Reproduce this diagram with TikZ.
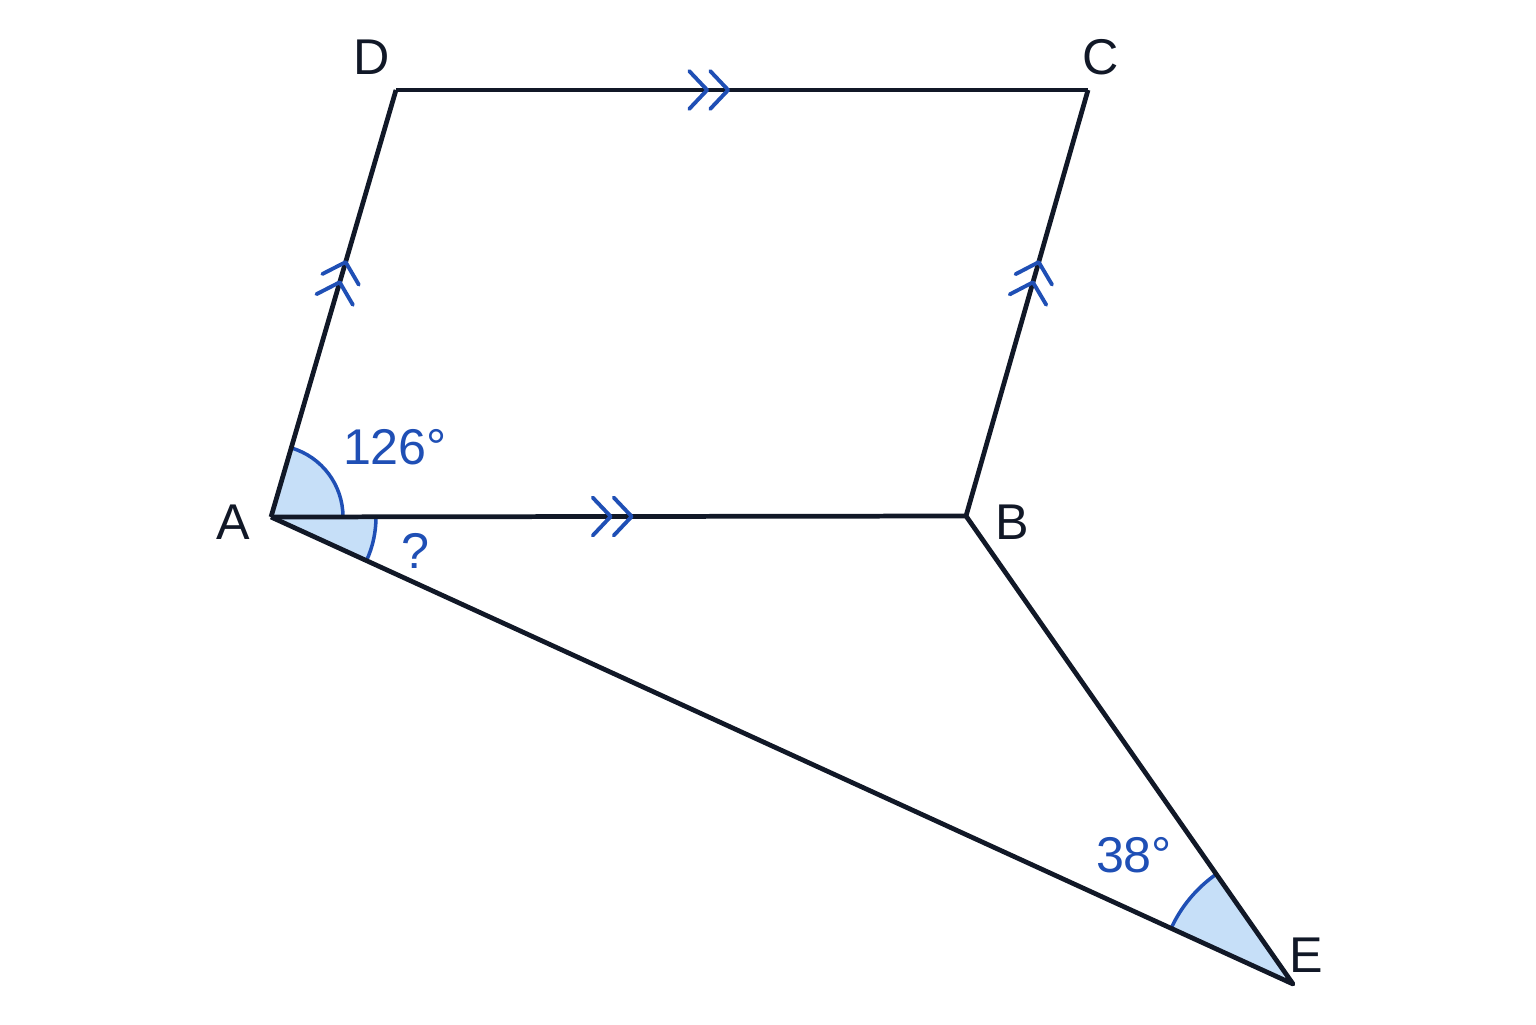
\documentclass[tikz,border=0pt]{standalone}
\usepackage{fontspec}
\setmainfont{Liberation Sans}
\usetikzlibrary{angles,decorations.markings}
\definecolor{ink}{HTML}{111827}
\definecolor{markblue}{HTML}{1F4FB5}
\definecolor{anglefill}{HTML}{C6DFF8}
\tikzset{
  side/.style={ink,line width=1.35pt,line join=round},
  vlabel/.style={ink,font=\fontsize{14.3}{17}\selectfont},
  alabel/.style={markblue,font=\fontsize{14.3}{17}\selectfont},
  anglemark/.style={draw=markblue,fill=anglefill,line width=1pt},
  parallel/.style={postaction={decorate,decoration={markings,
    mark=at position #1 with {\draw[markblue,line width=1.1pt,line cap=round]
      (-0.18,0.19)--(0,0)--(-0.18,-0.19) (-0.39,0.19)--(-0.21,0)--(-0.39,-0.19);}}}}
}
\begin{document}
\begin{tikzpicture}
            \useasboundingbox (0,0) rectangle (15.36,10.24);
            % Vertices
            \coordinate (A) at (2.71,5.07);
            \coordinate (B) at (9.66,5.08);
            \coordinate (C) at (10.88,9.34);
            \coordinate (D) at (3.96,9.34);
            \coordinate (E) at (12.93,0.40);
            % Angles
            \pic[anglemark,angle radius=0.72cm] {angle=B--A--D};
            \pic[anglemark,angle radius=1.05cm] {angle=E--A--B};
            \pic[anglemark,angle radius=1.34cm] {angle=B--E--A};
            % Sides
            \draw[side,parallel=0.597] (A) -- (D);
            \draw[side,parallel=0.48] (D) -- (C);
            \draw[side,parallel=0.596] (B) -- (C);
            \draw[side,parallel=0.519] (A) -- (B);
            \draw[side] (A) -- (E) -- (B);
            % Labels
            \node[vlabel] (lA) at (2.33,5.02) {A};
            \node[vlabel] (lB) at (10.12,5.02) {B};
            \node[vlabel] (lC) at (11.01,9.67) {C};
            \node[vlabel] (lD) at (3.72,9.67) {D};
            \node[vlabel] (lE) at (13.06,0.69) {E};
            \node[alabel] (a126) at (3.95,5.77) {126°};
            \node[alabel] (aq) at (4.15,4.73) {?};
            \node[alabel] (a38) at (11.34,1.69) {38°};
\end{tikzpicture}
\end{document}
